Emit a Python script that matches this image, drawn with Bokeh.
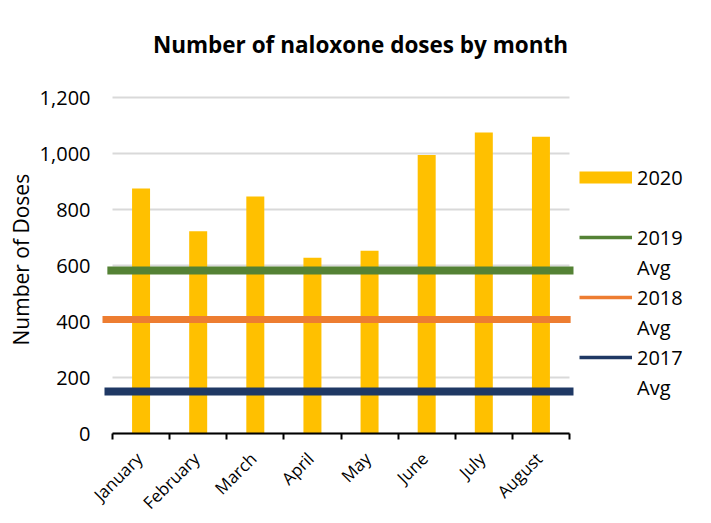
from math import pi
from bokeh.plotting import figure
from bokeh.models import (FixedTicker, NumeralTickFormatter, Legend, LegendItem,
                          Range1d, Label, Title, LinearAxis)
from bokeh.embed import file_html
from bokeh.resources import INLINE
from bokeh.core.properties import value

# ---- data ----
months = ["January", "February", "March", "April", "May", "June", "July", "August"]
doses_2020 = [875, 722, 846, 628, 653, 995, 1075, 1060]
avg_2019 = 582
avg_2018 = 407
avg_2017 = 150
y_ticks = [0, 200, 400, 600, 800, 1000, 1200]
legend_labels = ["2020", "2019", "2018", "2017"]
avg_word = "Avg"
title_text = "Number of naloxone doses by month"
y_title = "Number of Doses"

FONT = "Open Sans"
YELLOW = "#FFC000"
GREEN = "#548235"
ORANGE = "#ED7D31"
NAVY = "#1F3864"
n = len(months)
NaN = float("nan")

# ---- layout (pixels) ----
W, H = 703, 515
LEFT, BOTTOM = 90, 6            # frame spans the rest of the canvas
FRAME_B = H - BOTTOM            # frame bottom, px from top
AX_X0, AX_X1 = 112, 569         # category axis extent, px
AX_Y0, AX_Y1 = 433, 97          # value 0 and value 1200, px
ymax = y_ticks[-1]
px_x = (AX_X1 - AX_X0) / n
px_y = (AX_Y0 - AX_Y1) / ymax
x_start = -(AX_X0 - LEFT) / px_x
x_end = x_start + (W - LEFT) / px_x
y_end = ymax + AX_Y1 / px_y
y_start = -(FRAME_B - AX_Y0) / px_y

p = figure(width=W, height=H, output_backend="svg", toolbar_location=None,
           x_range=Range1d(x_start, x_end), y_range=Range1d(y_start, y_end),
           x_axis_location=None,
           min_border_left=LEFT, min_border_right=0, min_border_top=0,
           min_border_bottom=BOTTOM)
p.outline_line_color = None
p.xgrid.visible = False
p.ygrid.visible = False

# gridlines spanning the category axis only
p.segment(x0=[0] * len(y_ticks), x1=[n] * len(y_ticks), y0=y_ticks, y1=y_ticks,
          line_color="#d9d9d9", line_width=2)

xs = [i + 0.5 for i in range(n)]
p.vbar(x=xs, top=doses_2020, width=0.315, fill_color=YELLOW, line_color=None)

p.line(x=[-0.09, n + 0.07], y=[avg_2019, avg_2019], line_color=GREEN, line_width=8)
p.line(x=[-0.175, n + 0.02], y=[avg_2018, avg_2018], line_color=ORANGE, line_width=7)
p.line(x=[-0.14, n + 0.07], y=[avg_2017, avg_2017], line_color=NAVY, line_width=8)

# value axis (labels only)
p.yaxis.ticker = FixedTicker(ticks=y_ticks)
p.yaxis.formatter = NumeralTickFormatter(format="0,0")
p.yaxis.axis_line_color = None
p.yaxis.major_tick_line_color = None
p.yaxis.minor_tick_line_color = None
p.yaxis.major_tick_out = 0
p.yaxis.major_tick_in = 0
p.yaxis.minor_tick_out = 0
p.yaxis.minor_tick_in = 0
p.yaxis.major_label_standoff = 0
p.yaxis.major_label_text_font = FONT
p.yaxis.major_label_text_font_size = "20px"
p.yaxis.major_label_text_color = "#000000"

# category axis at value 0: line and tick marks between categories
xaxis = LinearAxis(fixed_location=0,
                   ticker=FixedTicker(ticks=[], minor_ticks=list(range(n + 1))),
                   bounds=(0, n),
                   axis_line_color="#000000", axis_line_width=2,
                   major_tick_out=0, major_tick_in=0, major_tick_line_color=None,
                   minor_tick_line_color="#000000", minor_tick_line_width=2,
                   minor_tick_out=6, minor_tick_in=0,
                   major_label_standoff=0, major_label_text_font_size="0px")
p.add_layout(xaxis, "below")

# month labels, rotated 45 degrees, ending under each category centre
lab_y = -24 / px_y
p.text(x=xs, y=[lab_y] * n, text=months, angle=pi / 4, x_offset=-2, y_offset=-2,
       text_align="right", text_baseline="middle",
       text_font=value(FONT), text_font_size="17px", text_color="#000000")

# legend proxies (no visible data)
r20 = p.line(x=[NaN], y=[NaN], line_color=YELLOW, line_width=12)
r19 = p.line(x=[NaN], y=[NaN], line_color=GREEN, line_width=3.5)
r18 = p.line(x=[NaN], y=[NaN], line_color=ORANGE, line_width=3.5)
r17 = p.line(x=[NaN], y=[NaN], line_color=NAVY, line_width=3.5)
blank = p.line(x=[NaN], y=[NaN], line_alpha=0)

legend = Legend(items=[LegendItem(label=legend_labels[0], renderers=[r20]),
                       LegendItem(label=" ", renderers=[blank]),
                       LegendItem(label=legend_labels[1], renderers=[r19]),
                       LegendItem(label=avg_word, renderers=[blank]),
                       LegendItem(label=legend_labels[2], renderers=[r18]),
                       LegendItem(label=avg_word, renderers=[blank]),
                       LegendItem(label=legend_labels[3], renderers=[r17]),
                       LegendItem(label=avg_word, renderers=[blank])],
                location=(579 - LEFT, FRAME_B - 402), orientation="vertical",
                glyph_width=53, glyph_height=30, label_height=30,
                label_standoff=5, spacing=0, padding=0, margin=0,
                border_line_color=None, background_fill_alpha=0,
                label_text_font=FONT, label_text_font_size="20px", label_text_color="#000000")
p.add_layout(legend)

# chart title
p.add_layout(Label(x=360 - LEFT, y=FRAME_B - 44, x_units="screen", y_units="screen",
                   text=title_text, text_align="center", text_baseline="middle",
                   text_font=FONT, text_font_size="22.5px", text_font_style="bold",
                   text_color="#000000"))

# value axis title
p.add_layout(Title(text=y_title, align="left", offset=FRAME_B - 345,
                   vertical_align="middle", standoff=2,
                   text_font=FONT, text_font_size="21px", text_font_style="normal",
                   text_color="#000000"), "left")

open("out.html", "w").write(file_html(p, INLINE))
